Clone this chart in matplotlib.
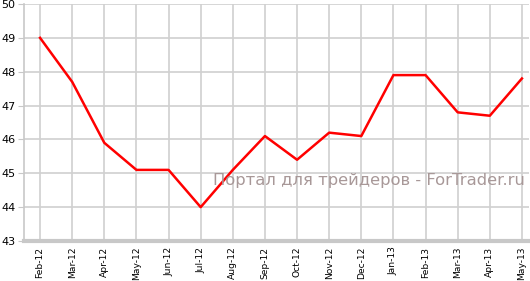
import matplotlib
matplotlib.use('Agg')
import matplotlib.pyplot as plt

months = ['Feb-12', 'Mar-12', 'Apr-12', 'May-12', 'Jun-12', 'Jul-12', 'Aug-12', 'Sep-12',
          'Oct-12', 'Nov-12', 'Dec-12', 'Jan-13', 'Feb-13', 'Mar-13', 'Apr-13', 'May-13']
values = [49.0, 47.7, 45.9, 45.1, 45.1, 44.0, 45.1, 46.1,
          45.4, 46.2, 46.1, 47.9, 47.9, 46.8, 46.7, 47.8]
y_ticks = [43, 44, 45, 46, 47, 48, 49, 50]

plt.rcParams['font.family'] = ['DejaVu Sans']
fig = plt.figure(figsize=(5.3, 2.81), dpi=100)
ax = fig.add_axes([24 / 530, 40 / 281, 505 / 530, 237 / 281])

x = list(range(len(months)))
ax.plot(x, values, color='#ff0000', lw=1.8, zorder=3)

ax.set_xlim(-0.5, 15.22)
ax.set_ylim(43, 50)
ax.set_yticks(y_ticks)
ax.set_xticks(x)
ax.set_xticklabels(months, rotation=90, fontsize=6.6)
ax.tick_params(axis='y', labelsize=8, length=4, color='#c8c8c8', pad=2)
ax.tick_params(axis='x', length=0, pad=4)
ax.grid(True, color='#d0d0d0', lw=1.2)
ax.set_axisbelow(True)

for s in ['top', 'right']:
    ax.spines[s].set_visible(False)
ax.spines['left'].set_color('#c8c8c8')
ax.spines['left'].set_linewidth(1.2)
ax.spines['bottom'].set_color('#c8c8c8')
ax.spines['bottom'].set_linewidth(3)

# watermark
fig.text(213 / 530, 1 - 180 / 281, 'Портал для трейдеров - ForTrader.ru',
         fontsize=11.8, color='#a89898', va='center', ha='left')

fig.savefig('out.png', dpi=100)
